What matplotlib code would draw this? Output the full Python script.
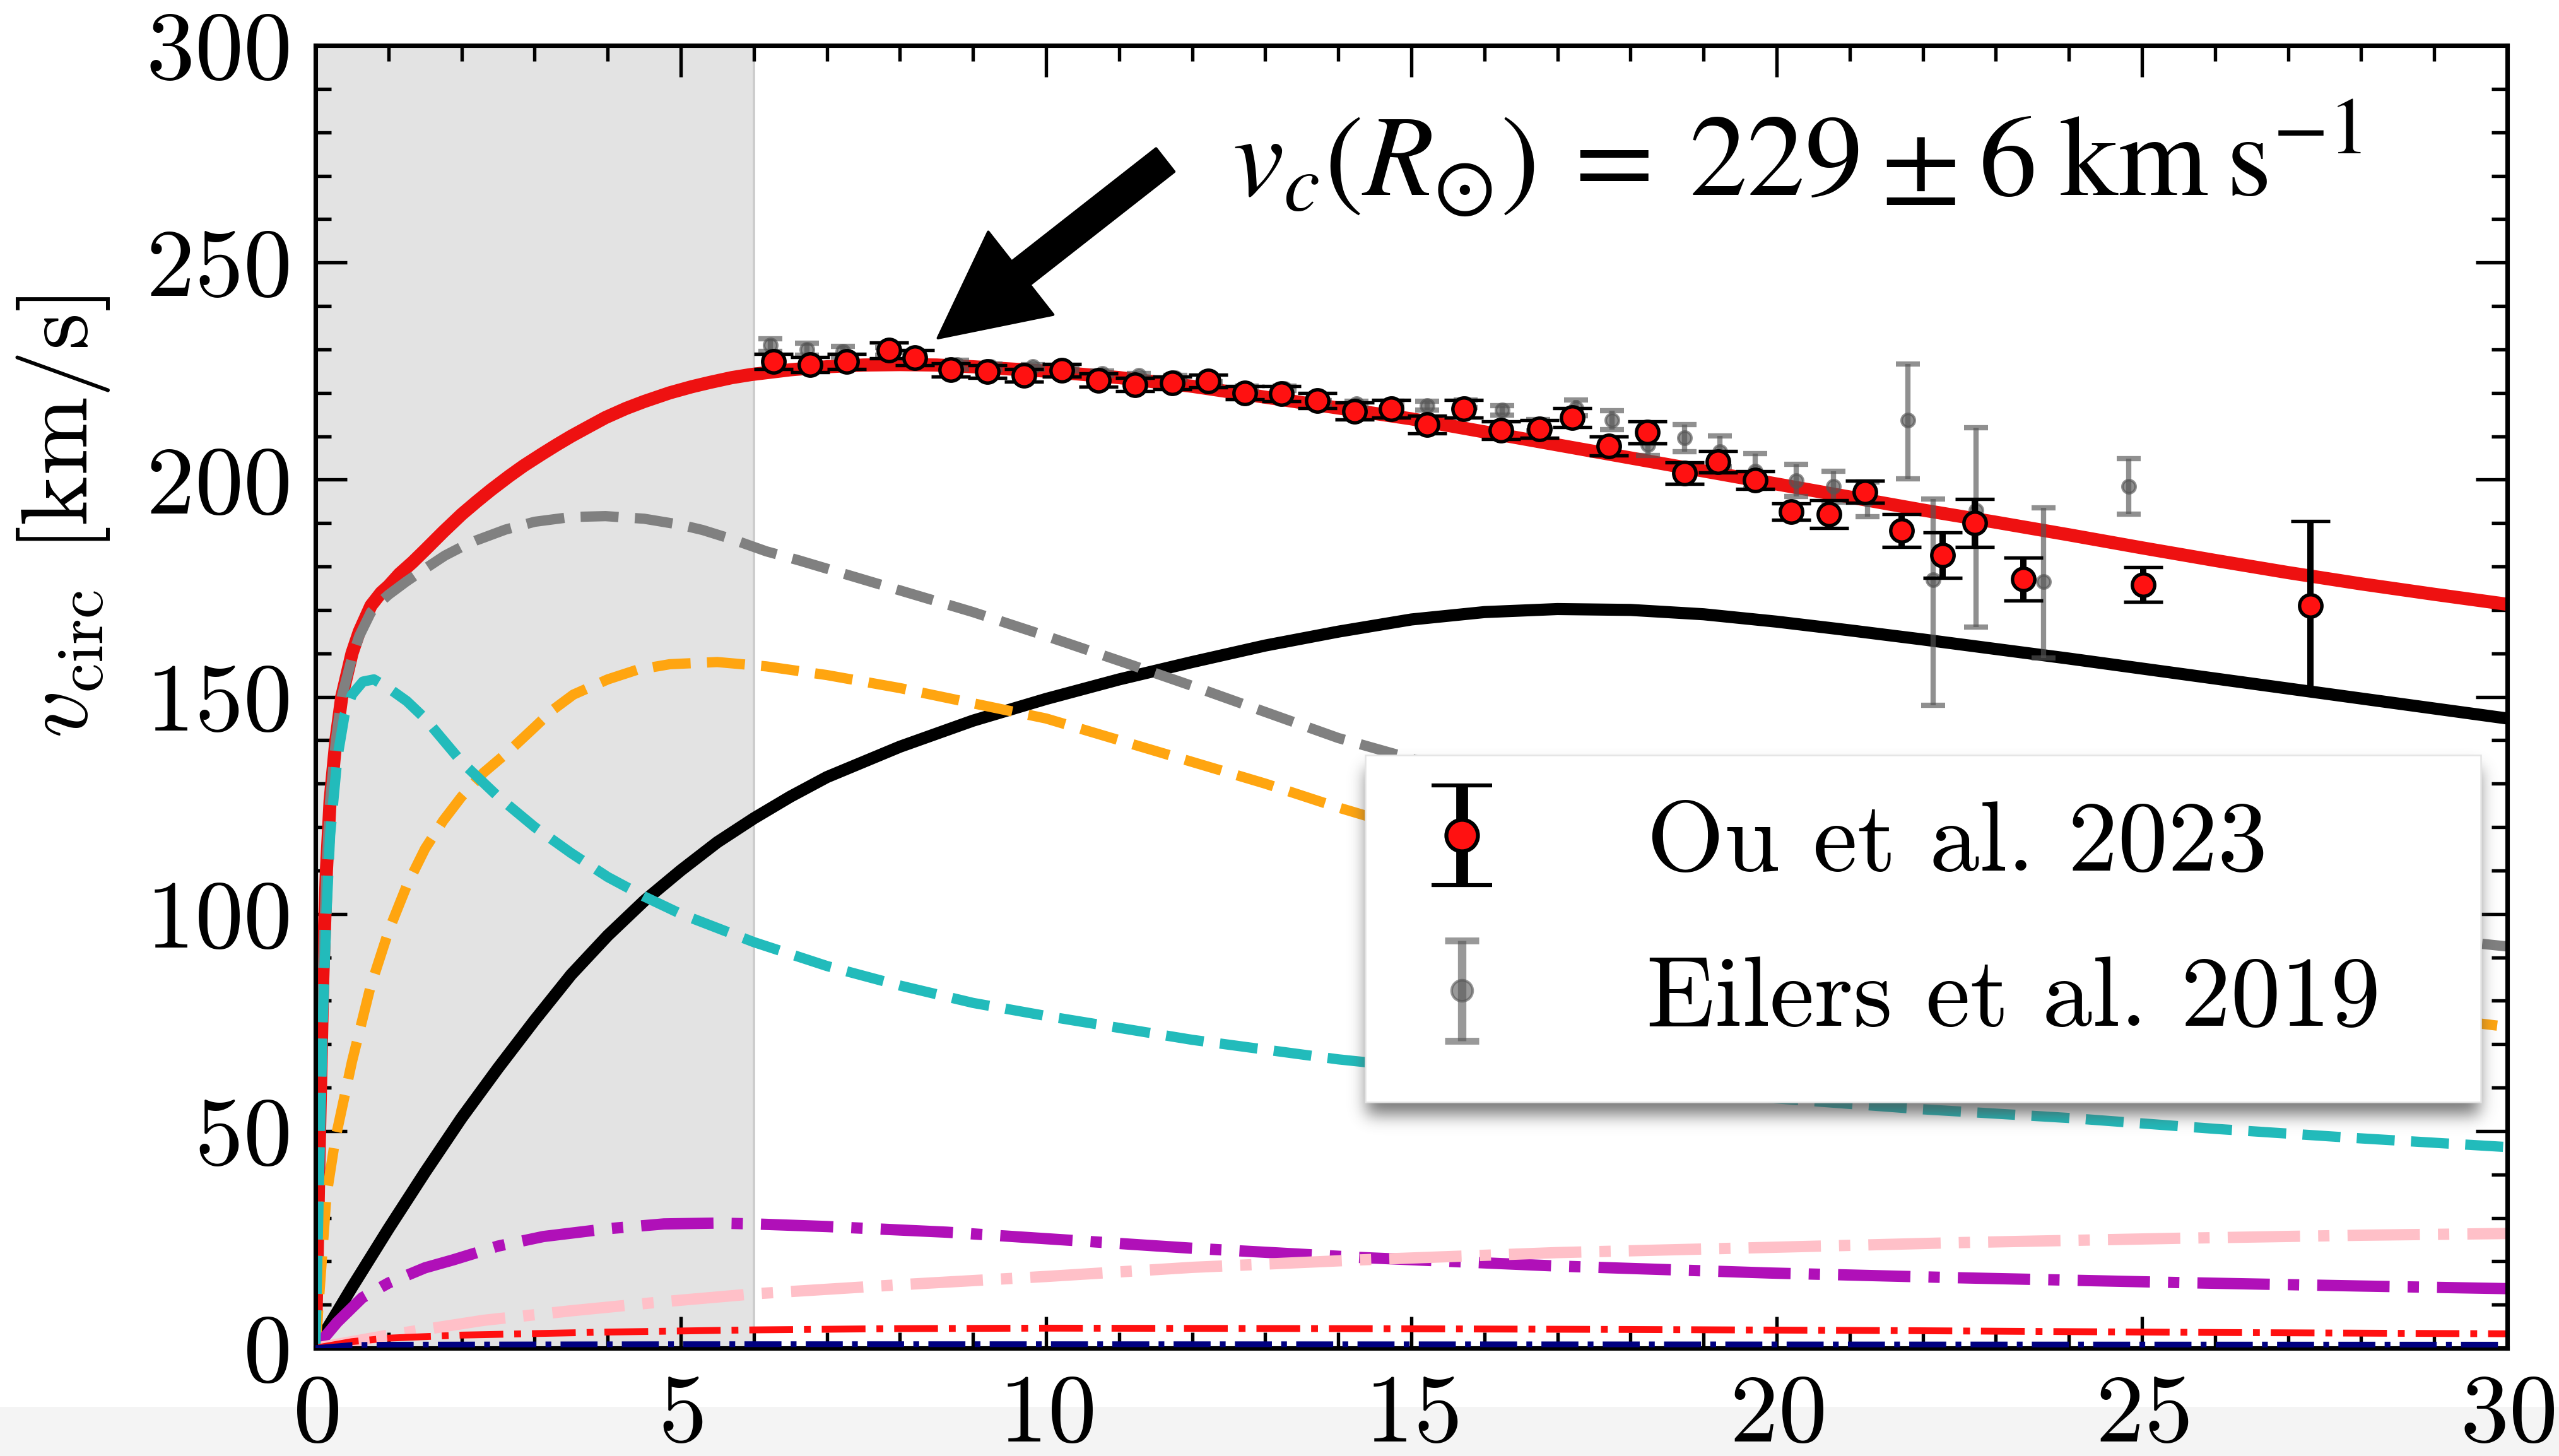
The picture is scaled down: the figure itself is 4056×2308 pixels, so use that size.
import numpy as np
import matplotlib
matplotlib.use("Agg")
import matplotlib.pyplot as plt
from matplotlib.patches import Rectangle

# ---------------- data ----------------
# total rotation curve
r_tot = [0, 0.05, 0.1, 0.15, 0.2, 0.28, 0.36, 0.5, 0.6, 0.76, 0.9, 1.0, 1.15, 1.33, 1.5,
         1.75, 2.0, 2.21, 2.4, 2.65, 2.85, 3.09, 3.3, 3.5, 3.75, 3.97, 4.25, 4.5, 4.85,
         5.15, 5.4, 5.7, 5.96, 6.5, 7, 7.5, 8, 8.5, 9, 10, 11, 12, 13, 14, 15, 16, 17, 18,
         19, 20, 21, 22, 23, 24, 25, 26, 27, 28, 29, 30]
v_tot = [0, 45, 85, 110, 126, 140, 150, 160, 165, 171, 174, 175.5, 178.3, 181, 183.8,
         188, 192, 195, 197.6, 200.8, 203.2, 205.8, 208, 210, 212.3, 214.3, 216.4, 218,
         220, 221.4, 222.4, 223.5, 224.2, 225.3, 226, 226.4, 226.5, 226.4, 226, 225, 223.5,
         221.5, 219, 216.5, 214, 211, 208, 205, 202, 199, 196, 193, 190.2, 187.3, 184.3,
         181.4, 178.6, 176, 173.6, 171.3]

# dark matter halo
r_halo = [0, 0.5, 1, 1.5, 2, 2.5, 3, 3.5, 4, 4.5, 5, 5.5, 6, 6.5, 7, 7.5, 8, 8.5, 9, 10,
          11, 12, 13, 14, 15, 16, 17, 18, 19, 20, 21, 22, 23, 24, 25, 26, 27, 28, 29, 30]
v_halo = [0, 14, 27.5, 40.5, 53, 64.5, 75.5, 86, 95, 103, 110, 116.5, 122, 127, 131.5,
          135, 138.5, 141.5, 144.5, 149.5, 154, 158, 161.8, 165, 167.8, 169.5, 170.2, 170,
          169, 167.3, 165.3, 163.2, 161, 158.8, 156.5, 154.2, 151.9, 149.6, 147.3, 145]

# total baryons
r_bar = [0, 0.05, 0.1, 0.15, 0.2, 0.28, 0.36, 0.5, 0.6, 0.76, 0.9, 1.0, 1.24, 1.5, 1.77,
         2.0, 2.2, 2.6, 3, 3.5, 3.97, 4.5, 5, 5.3, 5.7, 6.17, 6.6, 7, 7.5, 8, 9, 10, 11,
         12, 13, 14, 16, 18, 20, 22, 24, 26, 28, 30]
v_bar = [0, 45, 85, 110, 126, 140, 150, 159, 164, 169.5, 172, 173.5, 176.5, 179.5, 182.5,
         184.5, 186, 188.5, 190.3, 191.4, 191.6, 191, 189.6, 188.4, 186.3, 183.5, 181.5,
         179.5, 177, 174.5, 169.5, 164, 158.3, 152.5, 146.5, 140.5, 131, 123, 116.5, 110.5,
         105, 100, 96, 92.5]

# bulge
r_bulge = [0, 0.05, 0.1, 0.15, 0.2, 0.3, 0.4, 0.5, 0.65, 0.8, 1.0, 1.25, 1.5, 2, 2.5, 3,
           3.5, 4, 4.5, 5, 6, 7, 8, 9, 10, 12, 14, 16, 18, 20, 22, 24, 26, 28, 30]
v_bulge = [0, 40, 75, 100, 118, 136, 146, 150.5, 153.5, 154, 152, 149, 145, 135, 127,
           120, 114, 108.5, 104, 100, 93.5, 88, 83.5, 79.5, 76.5, 71, 66.5, 63, 60, 57.5,
           55, 53, 50.5, 48.3, 46.3]

# stellar disc
r_disc = [0, 0.15, 0.27, 0.5, 0.75, 1, 1.25, 1.5, 1.75, 2, 2.3, 2.65, 3.0, 3.25, 3.53, 4,
          4.4, 4.85, 5.5, 6.17, 7, 8, 9, 10, 11, 12, 13, 14, 16, 18, 20, 22, 24, 26, 28, 30]
v_disc = [0, 35, 48, 66, 83, 96, 106.5, 115, 121.5, 127, 132.5, 137.5, 143, 147, 150.5,
          154, 156.2, 157.5, 158, 157, 155, 152, 148.5, 145, 140, 135, 130, 124.5, 114.5,
          105.5, 98, 92, 87, 82.5, 78, 74]

# gas components
r_gas1 = [0, 0.3, 0.64, 1, 1.5, 1.88, 2.5, 3.12, 4, 4.77, 5.5, 6, 7, 8, 8.64, 10, 12,
          14.27, 17, 19.9, 22.5, 25.5, 28, 30]
v_gas1 = [0, 6, 11.6, 15, 18.5, 20.3, 23.5, 25.7, 27.5, 28.6, 28.8, 28.6, 28, 27.2, 26.7,
          25.2, 23, 20.9, 18.9, 17.3, 16.2, 15.1, 14.3, 13.7]

r_gas2 = [0, 1, 2.3, 3.5, 4.77, 6, 8, 10, 12, 14.27, 17, 19.9, 22.5, 25.5, 28, 30]
v_gas2 = [0, 3, 6.4, 8.6, 10.7, 12.5, 14.6, 16.5, 18.6, 20.3, 22, 23.2, 24.3, 25.3, 26,
          26.4]

r_gas3 = [0, 0.5, 1, 2, 4, 6, 8, 10, 14, 18, 22, 26, 30]
v_gas3 = [0, 1.5, 2.3, 3.0, 3.7, 4.2, 4.5, 4.6, 4.5, 4.3, 4.0, 3.6, 3.3]

r_gas4 = [0, 0.5, 1, 5, 10, 20, 30]
v_gas4 = [0, 0.7, 0.8, 0.9, 0.9, 0.85, 0.8]

# Ou et al. 2023
r_ou = [6.27, 6.77, 7.27, 7.85, 8.2, 8.7, 9.2, 9.7, 10.22, 10.72, 11.22, 11.73, 12.22,
        12.72, 13.22, 13.71, 14.22, 14.72, 15.22, 15.72, 16.23, 16.75, 17.2, 17.7, 18.23,
        18.74, 19.2, 19.71, 20.2, 20.72, 21.21, 21.71, 22.27, 22.71, 23.38, 25.02, 27.31]
v_ou = [227.2, 226.5, 227.2, 229.8, 228.1, 225.3, 224.9, 224.0, 225.2, 222.9, 221.9,
        222.3, 222.7, 220.0, 219.8, 218.2, 215.8, 216.3, 212.7, 216.3, 211.4, 211.7, 214.3,
        207.8, 210.9, 201.5, 204.1, 199.9, 192.6, 192.1, 197.2, 188.3, 182.6, 190.0, 177.1,
        175.8, 171.0]
e_ou = [1.8, 1.8, 1.8, 1.8, 1.8, 1.5, 1.5, 1.5, 1.5, 1.5, 1.5, 1.5, 1.5, 1.5, 1.8, 1.8,
        2.0, 2.0, 2.0, 2.0, 2.0, 2.0, 2.2, 2.2, 2.5, 2.5, 2.5, 2.0, 1.9, 3.2, 2.5, 3.8, 5.2,
        5.5, 5.0, 4.0, 19.5]

# Eilers et al. 2019
r_ei = [6.23, 6.73, 7.22, 7.82, 8.19, 8.78, 9.24, 9.82, 10.29, 10.77, 11.27, 11.77,
        12.25, 12.75, 13.26, 13.75, 14.25, 14.74, 15.22, 15.74, 16.24, 16.74, 17.25,
        17.75, 18.24, 18.74, 19.22, 19.71, 20.27, 20.78, 21.24, 21.80, 22.14, 22.73,
        23.65, 24.82]
v_ei = [231.0, 230.0, 229.5, 229.5, 228.5, 226.5, 226.0, 226.0, 225.5, 224.5, 224.0,
        223.5, 222.0, 221.0, 221.0, 217.5, 217.5, 217.5, 217.0, 217.5, 216.0, 212.5,
        216.5, 213.7, 208.0, 209.6, 206.5, 202.0, 199.8, 198.4, 195.5, 213.7, 177.0,
        193.0, 176.5, 198.5]
elo_ei = [1.4, 1.4, 1.2, 0.9, 0.8, 1.0, 0.7, 0.5, 0.5, 0.5, 0.5, 0.5, 0.5, 0.6, 0.5, 0.7,
          0.5, 0.6, 1.0, 0.9, 1.1, 1.3, 1.8, 2.2, 2.5, 3.1, 3.6, 4.0, 3.7, 3.6, 4.0, 13.5,
          29.0, 27.0, 17.5, 6.4]
ehi_ei = [1.4, 1.4, 1.2, 0.9, 0.8, 1.0, 0.7, 0.5, 0.5, 0.5, 0.5, 0.5, 0.5, 0.6, 0.5, 0.7,
          0.5, 0.6, 1.0, 0.9, 1.1, 1.3, 1.8, 2.2, 2.5, 3.1, 3.6, 4.0, 3.7, 3.6, 4.0, 13.0,
          18.6, 19.0, 17.0, 6.4]

x_ticks = [0, 5, 10, 15, 20, 25, 30]
y_ticks = [0, 50, 100, 150, 200, 250, 300]
inner_edge = 6.0
vc_sun_label = r"$v_c(R_{\odot})\:=\:229\:\pm\:6\;\mathrm{km\:s^{-1}}$"

# ---------------- style ----------------
plt.rcParams["font.family"] = "serif"
plt.rcParams["font.serif"] = ["cmr10"]
plt.rcParams["mathtext.fontset"] = "cm"
plt.rcParams["axes.formatter.use_mathtext"] = True
plt.rcParams["axes.unicode_minus"] = False

W, H, DPI = 4056, 2308, 300
fig = plt.figure(figsize=(W / DPI, H / DPI), dpi=DPI)
ax = fig.add_axes([500 / W, 1 - 2137 / H, 3474 / W, 2065 / H])

# light band along the bottom edge of the canvas
fig.add_artist(Rectangle((0, 0), 1, (H - 2230) / H, transform=fig.transFigure,
                         facecolor="#f4f4f4", edgecolor="none", zorder=-10))

# inner region
ax.axvspan(0, inner_edge, facecolor="#e3e3e3", edgecolor="none", zorder=0)
ax.axvline(inner_edge, color="#cccccc", lw=0.9, zorder=0.5)

# model curves
ax.plot(r_tot, v_tot, color="#ee1111", lw=5.0, zorder=2)
ax.plot(r_halo, v_halo, color="black", lw=4.6, zorder=2.1)
ax.plot(r_bar, v_bar, color="#808080", lw=3.9, ls="--", zorder=2.2)
ax.plot(r_disc, v_disc, color="#ffa510", lw=3.9, ls="--", zorder=2.2)
ax.plot(r_bulge, v_bulge, color="#22bbbb", lw=3.9, ls="--", zorder=2.3)
ax.plot(r_gas1, v_gas1, color="#b010b8", lw=4.3, ls="-.", zorder=2.2)
ax.plot(r_gas2, v_gas2, color="#ffc0c8", lw=4.3, ls="-.", zorder=2.2)
ax.plot(r_gas3, v_gas3, color="#ff1010", lw=2.6, ls="-.", zorder=2.3)
ax.plot(r_gas4, v_gas4, color="#000080", lw=2.2, ls="-.", zorder=2.6)

# measurements
ax.errorbar(r_ei, v_ei, yerr=[elo_ei, ehi_ei], fmt="o", ms=5.0, color="#555555",
            mfc="#555555", mec="#555555", ecolor="#555555", elinewidth=2.0,
            capsize=4.5, capthick=2.0, alpha=0.65, zorder=3)
ax.errorbar(r_ou, v_ou, yerr=e_ou, fmt="o", ms=8.5, mfc="#ff1111", mec="black",
            mew=1.3, ecolor="black", elinewidth=2.4, capsize=7.5, capthick=2.2, zorder=4)

# legend proxies (larger glyphs than the plotted points)
h_ou = ax.errorbar([np.nan], [np.nan], yerr=[1], fmt="o", ms=12, mfc="#ff1111",
                   mec="black", mew=1.5, ecolor="black", elinewidth=4.5, capsize=11.5,
                   capthick=2.6, label="Ou et al. 2023")
h_ei = ax.errorbar([np.nan], [np.nan], yerr=[1], fmt="o", ms=8, color="#555555",
                   ecolor="#555555", elinewidth=3.2, capsize=6.5, capthick=2.6,
                   alpha=0.6, label="Eilers et al. 2019")

# axes
ax.set_xlim(0, 30)
ax.set_ylim(0, 300)
ax.set_xticks(x_ticks)
ax.set_yticks(y_ticks)
ax.set_xticks(np.arange(0, 31, 1), minor=True)
ax.set_yticks(np.arange(0, 301, 10), minor=True)
ax.tick_params(which="both", direction="in", top=True, right=True, width=1.3,
               labelsize=37, pad=10)
ax.tick_params(which="major", length=12)
ax.tick_params(which="minor", length=6)
for s in ax.spines.values():
    s.set_linewidth(1.7)
ax.set_ylabel(r"$v_{\rm circ}$ [km/s]", fontsize=36)
ax.yaxis.set_label_coords(-0.093, 0.638)

# annotation
ax.annotate("", xy=(8.52, 232.6), xytext=(11.63, 273.6),
            arrowprops=dict(arrowstyle="simple,head_length=1.0,head_width=1.0,tail_width=0.28",
                            fc="black", ec="black", mutation_scale=40, shrinkA=0, shrinkB=0),
            zorder=6)
ax.text(12.55, 265.5, vc_sun_label, fontsize=44, math_fontfamily="stix",
        ha="left", va="baseline", zorder=6)

# legend box with a soft drop shadow
box = (0.479, 0.189, 0.509, 0.266)  # x, y, width, height in axes fraction
ax.add_patch(Rectangle(box[:2], box[2], box[3], transform=ax.transAxes,
                       facecolor="white", edgecolor="#e4e4e4", lw=0.6, zorder=7.95,
                       clip_on=False))

leg = ax.legend(handles=[h_ou, h_ei], loc="upper left", bbox_to_anchor=(0.473, 0.455),
                fontsize=38, frameon=False, borderpad=0.45, handlelength=1.3,
                handletextpad=1.2, labelspacing=0.66, borderaxespad=0)
leg.set_zorder(8)

fig.canvas.draw()
(bx0, by0), (bx1, by1) = ax.transAxes.transform([box[:2], (box[0] + box[2], box[1] + box[3])])
bw, bh = int(round(bx1 - bx0)), int(round(by1 - by0))
pad = 80
nx, ny = bw + 2 * pad, bh + 2 * pad
mask = np.zeros((ny, nx))
off = 20
mask[pad + off: pad + off + bh, pad + 2: pad + bw - 2] = 1.0
sig = 13.0
k = np.exp(-0.5 * (np.arange(-40, 41) / sig) ** 2)
k /= k.sum()
mask = np.apply_along_axis(lambda m: np.convolve(m, k, mode="same"), 0, mask)
mask = np.apply_along_axis(lambda m: np.convolve(m, k, mode="same"), 1, mask)
rgba = np.zeros((ny, nx, 4))
rgba[..., :3] = 0.3
rgba[..., 3] = 0.75 * mask
inv = ax.transAxes.inverted()
(ax0, ay0), (ax1, ay1) = inv.transform([(bx0 - pad, by0 - pad), (bx0 - pad + nx, by0 - pad + ny)])
ax.imshow(rgba, extent=(ax0, ax1, ay0, ay1), transform=ax.transAxes, origin="upper",
          aspect="auto", interpolation="bilinear", zorder=7.9, clip_on=False)
ax.set_xlim(0, 30)
ax.set_ylim(0, 300)

fig.savefig("out.png", dpi=DPI)
